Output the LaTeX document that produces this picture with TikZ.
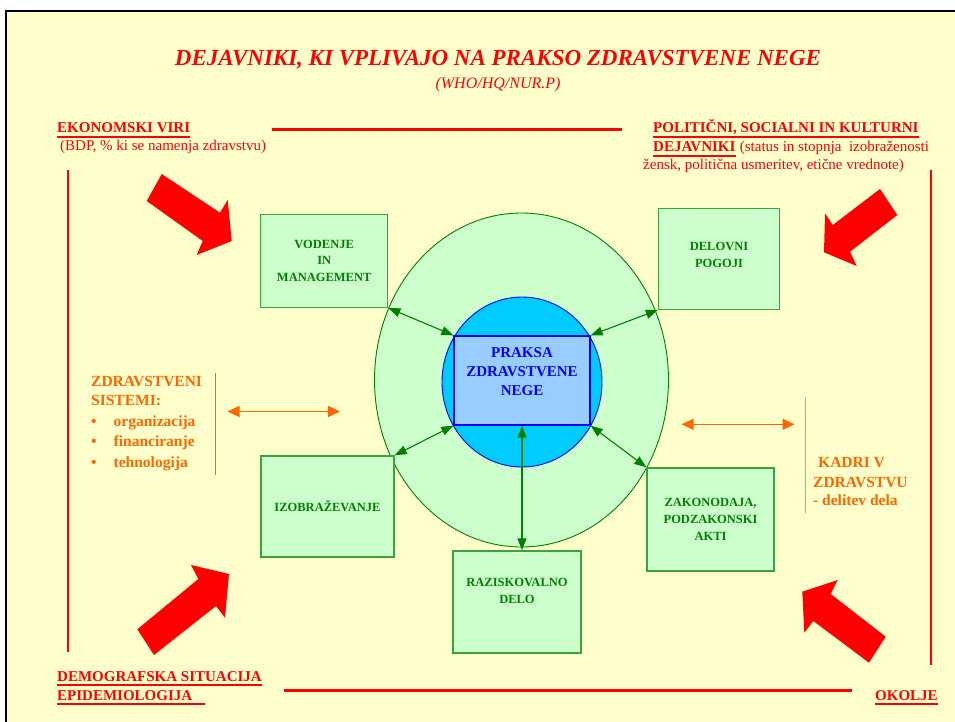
\documentclass[tikz,border=0pt]{standalone}
\usepackage{fontspec}
\setmainfont{Liberation Serif}
\usetikzlibrary{arrows.meta}

\definecolor{paper}{HTML}{FFFFCC}
\definecolor{mint}{HTML}{CCFFCC}
\definecolor{leaf}{HTML}{008000}
\definecolor{boxline}{HTML}{3DA33D}
\definecolor{sky}{HTML}{00CCFF}
\definecolor{pale}{HTML}{99CCFF}
\definecolor{ink}{HTML}{0000FF}
\definecolor{rust}{HTML}{FF6600}
\definecolor{rustlight}{HTML}{FF9933}

\tikzset{
  redlabel/.style={text=red,font=\fontsize{15}{18}\selectfont\bfseries,inner sep=0pt,anchor=base west},
  rednote/.style={text=red,font=\fontsize{15}{18}\selectfont,inner sep=0pt,anchor=base west},
  underbar/.style={draw=red,line width=1.6pt},
  orangetext/.style={text=rust,font=\fontsize{15.5}{20}\selectfont\bfseries,inner sep=0pt,anchor=base west},
  greenbox/.style={draw=boxline,fill=mint,line width=1.4pt,text=leaf,align=center,
                   font=\fontsize{12.5}{16.7}\selectfont\bfseries,inner sep=2pt},
  link/.style={<->,draw=leaf,line width=1.1pt},
  twoway/.style={{Triangle[length=12pt,width=11pt]}-{Triangle[length=12pt,width=11pt]},draw=rust,line width=1.3pt},
  redrule/.style={draw=red,line width=3pt},
  bigarrow/.style={fill=red}
}

\begin{document}
\begin{tikzpicture}[x=1pt,y=-1pt,>={Triangle[length=12pt,width=9pt]}]

  \useasboundingbox (0,0) rectangle (955,722);
  \fill[white] (0,0) rectangle (955,722);
  \fill[paper] (6,11) rectangle (955,722);
  \draw[black,line width=2.5pt] (6,722) -- (6,11) -- (955,11);

  % title
  \node[text=red,font=\fontsize{23}{26}\selectfont\bfseries\itshape,inner sep=0pt,anchor=base]
    (title) at (498,66) {DEJAVNIKI, KI VPLIVAJO NA PRAKSO ZDRAVSTVENE NEGE};
  \node[text=red,font=\fontsize{16}{18}\selectfont\itshape,inner sep=0pt,anchor=base]
    (source) at (498,89) {(WHO/HQ/NUR.P)};

  % corner labels
  \node[redlabel] (ekon) at (57,133) {EKONOMSKI VIRI};
  \draw[underbar] ([yshift=-4pt]ekon.base west) -- ([yshift=-4pt]ekon.base east);
  \node[rednote] (bdp) at (60,151) {(BDP, \% ki se namenja zdravstvu)};
  \node[redlabel] (polit) at (653,133) {POLITIČNI, SOCIALNI IN KULTURNI};
  \draw[underbar] ([yshift=-4pt]polit.base west) -- ([yshift=-4pt]polit.base east);
  \node[redlabel] (dejav) at (653,152) {DEJAVNIKI};
  \draw[underbar] ([yshift=-4pt]dejav.base west) -- ([yshift=-4pt]dejav.base east);
  \node[rednote] (status) at ([xshift=4pt]dejav.base east) {(status in stopnja\ \ izobraženosti};
  \node[rednote] (zensk) at (643,170) {žensk, politična usmeritev, etične vrednote)};
  \node[redlabel] (demo) at (57,681) {DEMOGRAFSKA SITUACIJA};
  \draw[underbar] ([yshift=-4pt]demo.base west) -- ([yshift=-4pt]demo.base east);
  \node[redlabel] (epid) at (57,700) {EPIDEMIOLOGIJA};
  \draw[underbar] ([yshift=-4pt]epid.base west) -- ++(148,0);
  \node[redlabel] (okolje) at (875,700) {OKOLJE};
  \draw[underbar] ([yshift=-4pt]okolje.base west) -- ([yshift=-4pt]okolje.base east);

  % frame lines
  \draw[redrule] (272,130) -- (622,130);
  \draw[redrule] (284,690) -- (852,690);
  \draw[redrule,line width=2.5pt] (68,170) -- (68,652);
  \draw[redrule,line width=2.5pt] (931,170) -- (931,665);

  % big arrows
  \fill[bigarrow] (161.7,174) -- (220,212.7) -- (227.7,200) -- (231.7,241) -- (196.7,255) -- (202.7,241) -- (146.7,201) -- cycle;
  \fill[bigarrow] (137.3,629.3) -- (198.3,579) -- (191,565) -- (229,574) -- (225,617.7) -- (216,606) -- (154,655) -- cycle;
  \fill[bigarrow] (880,189) -- (897.3,215) -- (850,251.7) -- (856.7,266) -- (824,252.3) -- (825,213.3) -- (832.7,225) -- cycle;
  \fill[bigarrow] (802.3,591.7) -- (837.7,580) -- (830.7,594) -- (885.7,636.7) -- (869,662.7) -- (813.3,621) -- (804.3,632.7) -- cycle;

  % centre
  \filldraw[fill=mint,draw=leaf,line width=0.9pt] (521.5,380) ellipse [x radius=147,y radius=167];
  \filldraw[fill=sky,draw=ink,line width=0.9pt] (522,382) ellipse [x radius=80,y radius=85];
  \node[draw=ink,fill=pale,line width=1.3pt,text=ink,align=center,minimum width=136,minimum height=89,
        font=\fontsize{15}{19}\selectfont\bfseries,inner sep=0pt,text depth=18pt] (praksa) at (522,380.5)
        {PRAKSA\\ZDRAVSTVENE\\NEGE};

  % factor boxes
  \node[greenbox,minimum width=127,minimum height=93] (vodenje) at (324.2,260.8) {VODENJE\\IN\\MANAGEMENT};
  \node[greenbox,minimum width=121,minimum height=101,text depth=8pt] (delovni) at (719,258.8) {DELOVNI\\POGOJI};
  \node[greenbox,minimum width=133,minimum height=101] (izobr) at (327.5,506.5) {IZOBRAŽEVANJE};
  \node[greenbox,minimum width=127,minimum height=103] (zakon) at (710.5,519.5) {ZAKONODAJA,\\PODZAKONSKI\\AKTI};
  \node[greenbox,minimum width=128,minimum height=102,text depth=22pt] (razisk) at (517,602) {RAZISKOVALNO\\DELO};

  \draw[link] (vodenje.south east) -- (praksa.north west);
  \draw[link] (delovni.south west) -- (praksa.north east);
  \draw[link] (izobr.north east) -- (praksa.south west);
  \draw[link] (zakon.north west) -- (praksa.south east);
  \draw[link] (razisk.north -| praksa.south) -- (praksa.south);

  % side texts
  \node[orangetext] (sis1) at (91,386) {ZDRAVSTVENI};
  \node[orangetext] (sis2) at (91,405) {SISTEMI:};
  \node[orangetext] (sis3) at (91,426) {\makebox[22.5pt][l]{\textbullet}organizacija};
  \node[orangetext] (sis4) at (91,446.5) {\makebox[22.5pt][l]{\textbullet}financiranje};
  \node[orangetext] (sis5) at (91,467) {\makebox[22.5pt][l]{\textbullet}tehnologija};
  \coordinate (sisbar1) at (215.5,373);
  \coordinate (sisbar2) at (215.5,475);
  \draw[rust,line width=1pt] (sisbar1) -- (sisbar2);
  \coordinate (sisl) at (227.5,411.5);
  \coordinate (sisr) at (340,411.5);
  \draw[twoway] (sisl) -- (sisr);

  \node[orangetext] (kad1) at (818,467) {KADRI V};
  \node[orangetext] (kad2) at (813,487) {ZDRAVSTVU};
  \node[orangetext] (kad3) at (813,505) {- delitev dela};
  \coordinate (kadbar1) at (805.5,398);
  \coordinate (kadbar2) at (805.5,513);
  \draw[rustlight,line width=1pt] (kadbar1) -- (kadbar2);
  \coordinate (kadl) at (681.5,424.3);
  \coordinate (kadr) at (794.5,424.3);
  \draw[twoway] (kadl) -- (kadr);

\end{tikzpicture}
\end{document}
